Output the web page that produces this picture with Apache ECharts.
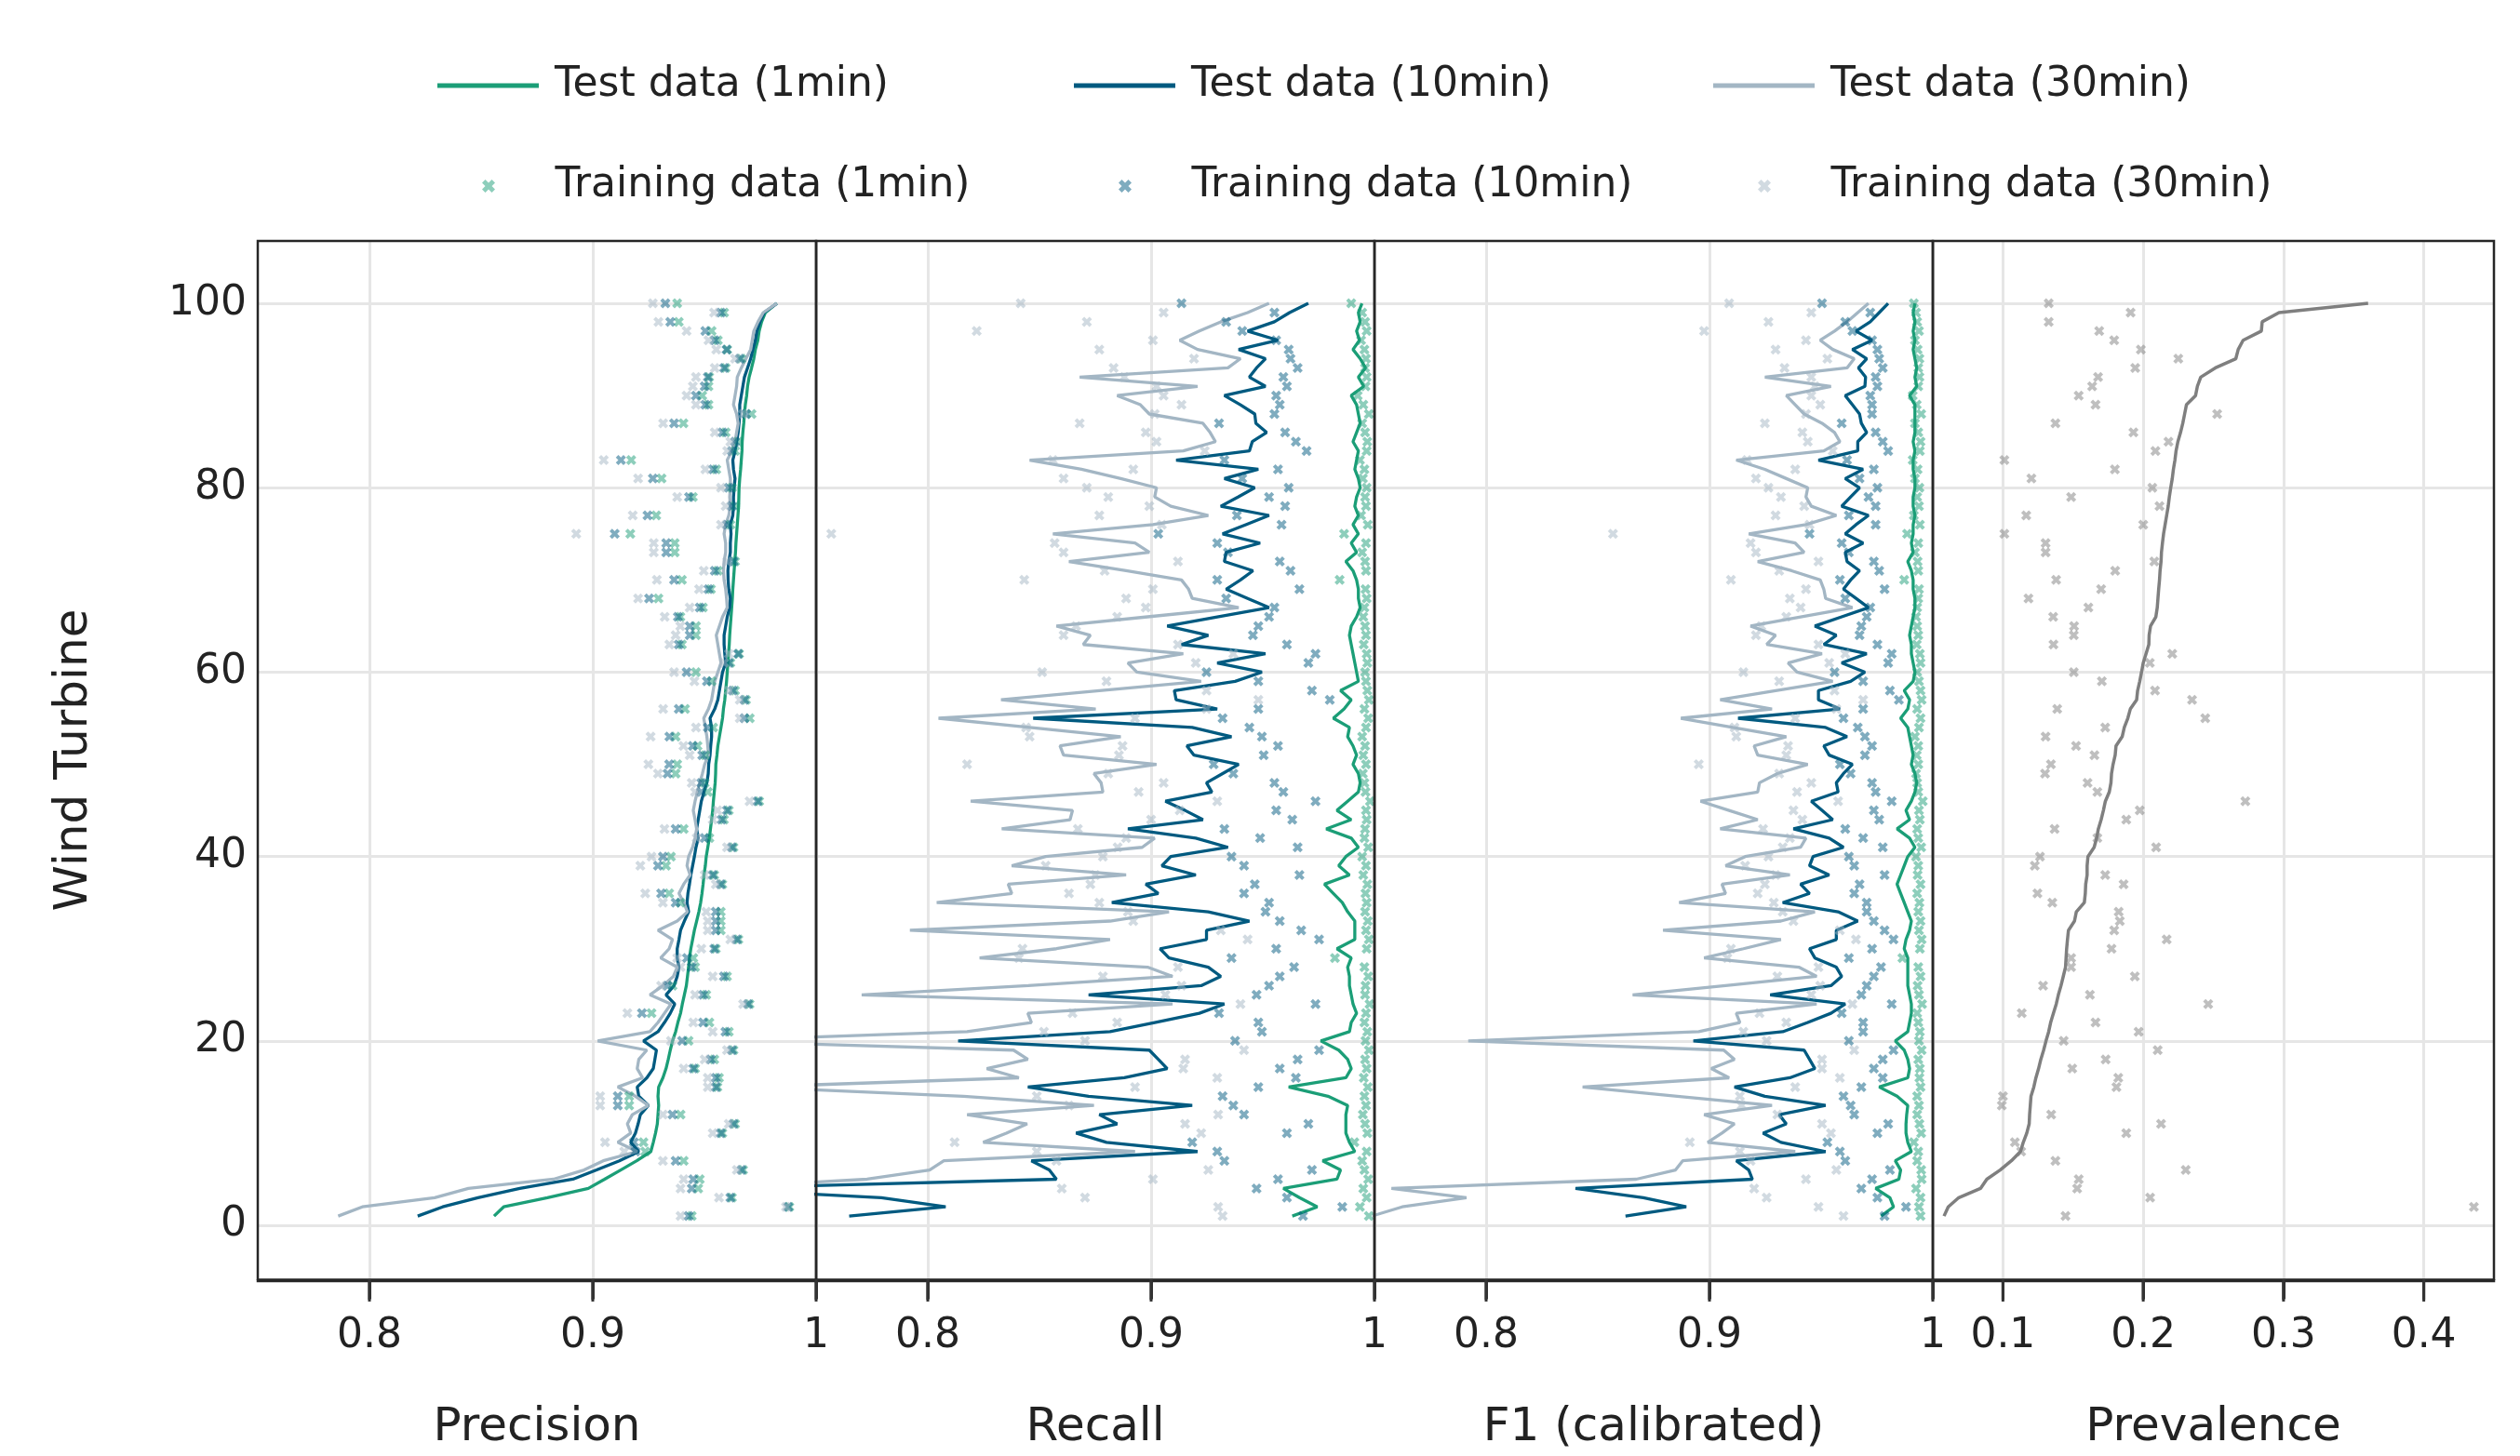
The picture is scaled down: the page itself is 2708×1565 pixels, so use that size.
<!DOCTYPE html>
<html><head><meta charset="utf-8">
<script src="https://cdn.jsdelivr.net/npm/echarts@6/dist/echarts.min.js"></script>
<style>html,body{margin:0;padding:0;background:#fff}#c{width:2708px;height:1565px}</style>
</head><body><div id="c"></div>
<script>
// Wind turbine index (y axis), sorted by test prevalence
const turbines = Array.from({length: 100}, (_, i) => i + 1);
const xTicksMetric = [0.8, 0.9, 1];
const xTicksPrev = [0.1, 0.2, 0.3, 0.4];
const yTicks = [0, 20, 40, 60, 80, 100];

// ---------------- Prevalence ----------------
const prevTest = [0.058,0.061,0.0685,0.084,0.0885,0.098,0.106,0.1125,0.1145,0.117,
0.1187,0.119,0.1195,0.12,0.122,0.1235,0.1254,0.127,0.129,0.1307,
0.1326,0.134,0.136,0.138,0.1395,0.1414,0.143,0.1446,0.145,0.1454,
0.146,0.1467,0.151,0.1523,0.158,0.1587,0.159,0.16,0.16,0.1606,
0.165,0.1668,0.168,0.17,0.1716,0.173,0.1758,0.177,0.1774,0.1785,
0.18,0.1806,0.185,0.1865,0.189,0.1908,0.1953,0.196,0.1975,0.1988,
0.2,0.202,0.204,0.2042,0.2052,0.209,0.21,0.2105,0.211,0.2116,
0.212,0.2127,0.213,0.2137,0.2145,0.2156,0.2167,0.2178,0.2186,0.2196,
0.2207,0.2215,0.2226,0.2234,0.2247,0.2266,0.2282,0.2295,0.2308,0.2373,
0.2386,0.241,0.2514,0.266,0.2677,0.2712,0.2842,0.2848,0.2968,0.3603];
const prevTrain = [0.1446,0.4357,0.2049,0.1529,0.154,0.2303,0.1374,0.113,0.1085,0.1879,
0.2127,0.1344,0.0992,0.1,0.1809,0.1822,0.1494,0.1732,0.2103,0.1433,
0.1967,0.166,0.1134,0.2463,0.162,0.1286,0.194,0.1486,0.1486,0.1774,
0.2167,0.1793,0.1833,0.1825,0.1352,0.1246,0.186,0.1729,0.1227,0.1264,
0.2092,0.1673,0.1368,0.1879,0.1975,0.2728,0.1673,0.1603,0.13,0.1342,
0.1652,0.1521,0.1304,0.1729,0.2442,0.1387,0.2348,0.2084,0.1705,0.1505,
0.2047,0.2207,0.136,0.1505,0.1507,0.1358,0.1609,0.1182,0.17,0.1379,
0.18,0.2079,0.1304,0.1304,0.101,0.2,0.1166,0.2116,0.1486,0.2065,
0.1203,0.1798,0.101,0.2087,0.218,0.193,0.1374,0.2527,0.166,0.154,
0.1636,0.1678,0.1943,0.225,0.1983,0.1793,0.1686,0.1326,0.191,0.1326];

// ---------------- Precision ----------------
const precTest1 = [0.8558,0.8601,0.8797,0.898,0.9053,0.9125,0.9197,0.926,0.9271,0.9281,
0.9289,0.9292,0.9295,0.9292,0.9295,0.9314,0.9328,0.9338,0.9347,0.9357,
0.9371,0.9381,0.9393,0.9401,0.941,0.9419,0.9424,0.9429,0.9433,0.9439,
0.9447,0.9455,0.9465,0.9475,0.9483,0.9489,0.9494,0.9498,0.9504,0.9508,
0.9515,0.9522,0.9527,0.9532,0.9537,0.954,0.9544,0.9548,0.955,0.9551,
0.9556,0.956,0.9567,0.9574,0.9581,0.9585,0.9591,0.9595,0.9599,0.9602,
0.9605,0.9608,0.9611,0.9613,0.9616,0.9619,0.9622,0.9625,0.9627,0.963,
0.9633,0.9636,0.9639,0.9641,0.9644,0.9647,0.965,0.9653,0.9654,0.9655,
0.9658,0.9662,0.9665,0.9668,0.9669,0.9672,0.9676,0.9679,0.9683,0.9689,
0.9693,0.97,0.9711,0.9721,0.9728,0.9739,0.9745,0.9756,0.9773,0.9824];
const precTest10 = [0.8216,0.8328,0.8486,0.8673,0.8911,0.9017,0.9119,0.9206,0.917,0.9191,
0.9203,0.9213,0.9249,0.9206,0.9199,0.9242,0.9271,0.9278,0.9285,0.9227,
0.9292,0.9321,0.9347,0.9367,0.9328,0.9364,0.9378,0.9386,0.9378,0.9378,
0.9386,0.9393,0.941,0.9429,0.9422,0.9426,0.9433,0.9439,0.9447,0.9455,
0.9462,0.9472,0.9465,0.9472,0.9479,0.9486,0.9498,0.9511,0.9517,0.9519,
0.9525,0.9528,0.9532,0.9532,0.9525,0.9546,0.956,0.9567,0.9574,0.9581,
0.9595,0.9591,0.9588,0.9588,0.9595,0.9602,0.9613,0.9616,0.9609,0.9606,
0.9605,0.9609,0.9616,0.9616,0.9619,0.9616,0.9627,0.963,0.963,0.9633,
0.9637,0.963,0.9627,0.9637,0.9644,0.9651,0.9655,0.9658,0.9658,0.9665,
0.9672,0.9679,0.9693,0.9707,0.9717,0.9728,0.9735,0.9749,0.9767,0.9824];
const precTest30 = [0.786,0.7968,0.8292,0.8443,0.8824,0.8961,0.9047,0.9199,0.9112,0.917,
0.9155,0.9177,0.9249,0.9191,0.9112,0.9223,0.9199,0.9206,0.9242,0.9022,
0.9256,0.9292,0.9321,0.935,0.9256,0.9314,0.9361,0.9378,0.9304,0.9342,
0.9357,0.9292,0.9378,0.9424,0.9407,0.9386,0.9407,0.9436,0.9422,0.9429,
0.9447,0.9458,0.9465,0.9458,0.945,0.9458,0.9468,0.9479,0.9491,0.9501,
0.9518,0.9515,0.9511,0.9504,0.9497,0.9518,0.9532,0.9539,0.9546,0.956,
0.9574,0.9567,0.956,0.9553,0.9567,0.9581,0.9602,0.9599,0.9595,0.9588,
0.9585,0.9588,0.9595,0.9595,0.9588,0.9595,0.9609,0.9616,0.9613,0.9616,
0.9616,0.9609,0.9602,0.9623,0.9637,0.9644,0.9651,0.9644,0.963,0.9637,
0.9644,0.9647,0.9665,0.9686,0.9707,0.9714,0.9721,0.974,0.9763,0.9824];
const precTrain1 = [0.9443,0.988,0.9623,0.9472,0.9479,0.9673,0.9407,0.9235,0.9227,0.958,
0.9637,0.9393,0.9163,0.9163,0.9558,0.9565,0.9458,0.9544,0.963,0.9429,
0.9609,0.9522,0.9263,0.9702,0.9508,0.9357,0.9601,0.9458,0.945,0.9551,
0.9652,0.9573,0.9573,0.9573,0.9393,0.9342,0.958,0.9544,0.9328,0.935,
0.963,0.9522,0.9407,0.9587,0.9609,0.9745,0.9515,0.9501,0.9371,0.9378,
0.9504,0.9469,0.9371,0.9539,0.9703,0.9413,0.9686,0.9637,0.9532,0.9462,
0.9616,0.9655,0.9399,0.9462,0.9462,0.9392,0.9493,0.9294,0.9529,0.9399,
0.956,0.9637,0.9367,0.9367,0.9168,0.9616,0.9284,0.9637,0.9448,0.9623,
0.9308,0.9553,0.9172,0.9637,0.9651,0.9595,0.9406,0.9711,0.9518,0.949,
0.9518,0.9521,0.9595,0.9665,0.9602,0.956,0.9532,0.9385,0.9588,0.9378];
const precTrain10 = [0.9429,0.9875,0.9616,0.9443,0.945,0.9666,0.9371,0.9191,0.9184,0.9573,
0.963,0.9357,0.9112,0.9112,0.9551,0.9551,0.945,0.9529,0.9623,0.94,
0.9594,0.9494,0.922,0.9695,0.9494,0.9335,0.9587,0.9443,0.9422,0.9544,
0.9645,0.9551,0.9551,0.9551,0.9371,0.9306,0.9573,0.9537,0.9292,0.9314,
0.9623,0.9501,0.9371,0.9577,0.9601,0.9738,0.9486,0.9486,0.9335,0.9342,
0.949,0.9448,0.9343,0.9515,0.9679,0.9385,0.9679,0.9627,0.9511,0.942,
0.9609,0.9651,0.9385,0.9434,0.9434,0.9381,0.9479,0.9252,0.9518,0.9364,
0.9546,0.963,0.9329,0.9329,0.9098,0.9602,0.9245,0.9623,0.9431,0.9609,
0.9269,0.9539,0.9126,0.9623,0.9637,0.9581,0.9364,0.9686,0.9504,0.9462,
0.9501,0.9515,0.9588,0.9658,0.9599,0.9546,0.9504,0.9347,0.9574,0.9325];
const precTrain30 = [0.9393,0.9865,0.9565,0.9393,0.9407,0.9645,0.9314,0.9141,0.9055,0.9537,
0.9609,0.9314,0.9033,0.9033,0.9515,0.9515,0.9407,0.9501,0.9601,0.935,
0.9537,0.945,0.9155,0.9673,0.9458,0.9306,0.9537,0.9393,0.9378,0.9486,
0.9616,0.9515,0.9515,0.9508,0.9314,0.9235,0.9551,0.9501,0.9213,0.9263,
0.9601,0.9465,0.9321,0.9537,0.9558,0.9702,0.9458,0.9443,0.9292,0.9249,
0.9434,0.9406,0.9259,0.9462,0.9658,0.9315,0.9658,0.9609,0.9455,0.9364,
0.9588,0.9609,0.9343,0.9371,0.9392,0.9322,0.9434,0.9203,0.9476,0.9287,
0.9497,0.9602,0.9273,0.9273,0.8926,0.9574,0.9179,0.9595,0.9378,0.9574,
0.9203,0.9504,0.9049,0.9602,0.9616,0.9546,0.9315,0.9672,0.9462,0.942,
0.9448,0.9462,0.9546,0.9637,0.9553,0.9518,0.942,0.9294,0.9543,0.9269];

// ---------------- Recall ----------------
const recTest1 = [0.9632,0.9744,0.9664,0.9592,0.9832,0.9848,0.9768,0.9912,0.9888,0.9872,
0.9872,0.9872,0.988,0.9792,0.9616,0.9872,0.9896,0.988,0.984,0.976,
0.9888,0.9896,0.992,0.9904,0.9896,0.9888,0.9888,0.988,0.9896,0.9832,
0.9912,0.9912,0.9912,0.988,0.9856,0.9816,0.9776,0.9888,0.984,0.9872,
0.9928,0.9896,0.9784,0.9896,0.9832,0.988,0.9928,0.9936,0.9928,0.9904,
0.992,0.9904,0.988,0.9888,0.9816,0.9864,0.9896,0.9848,0.9928,0.992,
0.9912,0.9904,0.9896,0.9888,0.9896,0.992,0.9936,0.9928,0.9928,0.992,
0.9904,0.9872,0.992,0.9896,0.9928,0.9904,0.9928,0.9912,0.992,0.9936,
0.9928,0.9912,0.992,0.9928,0.9904,0.992,0.9936,0.9928,0.992,0.9896,
0.9952,0.9928,0.996,0.9936,0.9904,0.9933,0.992,0.9936,0.9928,0.9944];
const recTest10 = [0.7648,0.808,0.7792,0.70,0.8576,0.8544,0.8464,0.9208,0.88,0.8664,
0.8848,0.8768,0.9184,0.872,0.8448,0.888,0.9072,0.9032,0.8992,0.8136,
0.8816,0.9016,0.9216,0.9328,0.872,0.9224,0.9312,0.9256,0.908,0.904,
0.9248,0.9248,0.944,0.9256,0.8824,0.9032,0.8976,0.92,0.9048,0.9088,
0.9344,0.92,0.8896,0.9232,0.9152,0.9064,0.9272,0.9248,0.932,0.9392,
0.9192,0.916,0.936,0.9184,0.8472,0.9296,0.9112,0.9104,0.9376,0.9496,
0.9296,0.9512,0.9136,0.9256,0.9072,0.9296,0.9528,0.9432,0.9336,0.94,
0.9456,0.9328,0.9336,0.9488,0.932,0.9424,0.9528,0.9312,0.9389,0.9464,
0.9328,0.948,0.9112,0.944,0.9453,0.9517,0.9469,0.9464,0.94,0.9328,
0.9512,0.944,0.9472,0.9512,0.9392,0.9568,0.9432,0.9552,0.962,0.9704];
const recTest30 = [0.68,0.71,0.69,0.70,0.7728,0.8008,0.8072,0.8928,0.8248,0.8352,
0.8445,0.8176,0.8744,0.816,0.72,0.8408,0.8264,0.8448,0.8384,0.70,
0.8176,0.8464,0.8448,0.9096,0.7704,0.845,0.9096,0.8984,0.8232,0.8576,
0.8816,0.792,0.8816,0.908,0.804,0.8376,0.836,0.8888,0.8376,0.8528,
0.896,0.9016,0.8331,0.8637,0.8648,0.8192,0.8784,0.8776,0.8744,0.9024,
0.8608,0.8592,0.8864,0.8456,0.8048,0.8752,0.8328,0.8768,0.9224,0.8936,
0.8896,0.9144,0.8696,0.8728,0.8576,0.8984,0.9392,0.9184,0.9168,0.9136,
0.8888,0.8632,0.8992,0.8928,0.856,0.9008,0.9256,0.9088,0.9016,0.9024,
0.8864,0.8688,0.8456,0.9144,0.9288,0.9264,0.9232,0.8992,0.8952,0.8848,
0.9208,0.868,0.9344,0.94,0.9208,0.9128,0.9216,0.9312,0.9432,0.9528];
const recTrain1 = [0.9975,0.9935,0.9965,0.995,0.9972,0.9955,0.9945,0.9965,0.991,0.9968,
0.9958,0.9948,0.9962,0.9955,0.997,0.9952,0.9965,0.9958,0.9975,0.996,
0.9968,0.9955,0.9962,0.9978,0.9958,0.996,0.9972,0.9955,0.9823,0.9965,
0.9975,0.9962,0.997,0.9958,0.9965,0.996,0.9968,0.995,0.9962,0.9945,
0.9972,0.9955,0.9958,0.9965,0.9962,0.998,0.996,0.9955,0.9948,0.9962,
0.995,0.9958,0.9945,0.9962,0.9972,0.9955,0.9975,0.9968,0.9962,0.9958,
0.9968,0.9965,0.9952,0.9962,0.9958,0.995,0.9955,0.9965,0.996,0.9844,
0.9962,0.9958,0.9945,0.9962,0.9864,0.997,0.994,0.9962,0.9958,0.9965,
0.9948,0.9955,0.9935,0.9965,0.9968,0.9958,0.9945,0.9975,0.995,0.9925,
0.996,0.9965,0.9958,0.9962,0.9955,0.994,0.9965,0.9958,0.9945,0.9896];
const recTrain10 = [0.968,0.9856,0.9608,0.9472,0.9568,0.972,0.9328,0.9296,0.9184,0.9608,
0.9704,0.9416,0.9368,0.932,0.948,0.9648,0.9576,0.9656,0.9752,0.9376,
0.9496,0.948,0.9304,0.9736,0.9472,0.9528,0.9576,0.964,0.936,0.956,
0.9752,0.9672,0.9576,0.9512,0.9528,0.9416,0.9464,0.9664,0.9416,0.936,
0.9656,0.9488,0.9328,0.9632,0.956,0.9736,0.9592,0.9552,0.9368,0.928,
0.9504,0.9568,0.9496,0.944,0.932,0.948,0.98,0.972,0.948,0.9248,
0.9704,0.9736,0.9608,0.9456,0.948,0.9528,0.9552,0.9336,0.9664,0.9296,
0.9624,0.9576,0.9344,0.9296,0.9032,0.9584,0.9384,0.96,0.9528,0.9616,
0.9408,0.9568,0.9328,0.9696,0.9648,0.96,0.9304,0.9552,0.9576,0.956,
0.9608,0.9592,0.9656,0.9624,0.9616,0.956,0.9408,0.9336,0.9552,0.9136];
const recTrain30 = [0.932,0.93,0.8704,0.86,0.9008,0.9256,0.8576,0.8488,0.812,0.9224,
0.9152,0.93,0.8632,0.8488,0.8928,0.9296,0.9144,0.9152,0.9416,0.8704,
0.852,0.8848,0.8648,0.94,0.9064,0.9136,0.8784,0.912,0.8408,0.8424,
0.9432,0.9312,0.892,0.8896,0.8768,0.8632,0.8728,0.875,0.8528,0.8784,
0.885,0.8888,0.8672,0.90,0.9128,0.9296,0.8944,0.9056,0.8808,0.8176,
0.8856,0.8872,0.8456,0.844,0.8928,0.9248,0.948,0.9248,0.88,0.8512,
0.92,0.9368,0.912,0.8608,0.8664,0.8848,0.8976,0.8888,0.9008,0.8432,
0.8792,0.912,0.8608,0.8568,0.7568,0.9048,0.8768,0.8992,0.8808,0.8712,
0.8608,0.892,0.856,0.924,0.9024,0.8976,0.868,0.9016,0.9136,0.9056,
0.9024,0.888,0.8832,0.9192,0.8768,0.9008,0.8219,0.8712,0.9056,0.8416];

// ---------------- F1 (calibrated) ----------------
const f1Test1 = [0.9768,0.9824,0.9808,0.9744,0.9848,0.9856,0.9832,0.9904,0.9888,0.988,
0.988,0.9883,0.9888,0.984,0.976,0.9888,0.9896,0.9888,0.9872,0.9832,
0.9888,0.9896,0.9904,0.9904,0.9896,0.9888,0.9888,0.9888,0.9888,0.9872,
0.988,0.9896,0.9904,0.9888,0.9872,0.9856,0.984,0.9856,0.9872,0.9888,
0.992,0.9896,0.984,0.9896,0.988,0.9904,0.992,0.9928,0.992,0.9904,
0.9912,0.9904,0.9896,0.9888,0.9856,0.9888,0.9896,0.9872,0.9912,0.992,
0.9912,0.9904,0.9904,0.9896,0.9904,0.9912,0.992,0.992,0.9912,0.9912,
0.9904,0.9888,0.9912,0.9904,0.9912,0.9912,0.992,0.9912,0.9912,0.992,
0.992,0.9912,0.9912,0.992,0.9912,0.992,0.992,0.992,0.992,0.9896,
0.9928,0.992,0.9928,0.992,0.9912,0.992,0.9912,0.992,0.9912,0.992];
const f1Test10 = [0.8624,0.8896,0.8704,0.84,0.9192,0.9176,0.912,0.952,0.932,0.924,
0.9344,0.9312,0.952,0.9248,0.9112,0.936,0.9472,0.9448,0.9424,0.8928,
0.9328,0.944,0.9544,0.9608,0.9272,0.9544,0.9592,0.9568,0.9472,0.9448,
0.9568,0.9568,0.9664,0.9576,0.9328,0.9448,0.9408,0.9536,0.9448,0.9464,
0.96,0.9536,0.9376,0.9552,0.9504,0.9456,0.9576,0.9568,0.96,0.964,
0.9536,0.9512,0.9616,0.952,0.9128,0.9584,0.9488,0.9488,0.9632,0.9696,
0.9592,0.9704,0.9512,0.9568,0.9472,0.9592,0.9712,0.9656,0.96,0.9632,
0.9672,0.9616,0.9608,0.9688,0.9608,0.9656,0.9712,0.9592,0.9632,0.9672,
0.9608,0.9688,0.9488,0.9664,0.9664,0.9704,0.968,0.9672,0.964,0.9608,
0.9696,0.9699,0.9667,0.9704,0.964,0.9728,0.9656,0.972,0.976,0.98];
const f1Test30 = [0.7488,0.7624,0.7912,0.7576,0.8672,0.8848,0.888,0.9384,0.8992,0.9056,
0.9112,0.8976,0.928,0.8856,0.8432,0.9088,0.9008,0.9112,0.9064,0.792,
0.8952,0.9136,0.912,0.948,0.8656,0.9072,0.948,0.94,0.8976,0.9152,
0.932,0.8792,0.932,0.9472,0.8864,0.9072,0.9056,0.936,0.9072,0.916,
0.9408,0.9432,0.9048,0.9216,0.9088,0.896,0.9216,0.9224,0.9304,0.944,
0.9216,0.92,0.9344,0.9104,0.8872,0.928,0.9048,0.9296,0.9552,0.9392,
0.9352,0.9504,0.9256,0.9296,0.9184,0.9408,0.964,0.952,0.9512,0.9496,
0.9368,0.9216,0.9424,0.9384,0.9176,0.9432,0.9568,0.9456,0.9432,0.944,
0.9344,0.9248,0.912,0.9512,0.9584,0.956,0.9504,0.9424,0.9384,0.9344,
0.9544,0.9248,0.9616,0.9648,0.9552,0.9496,0.956,0.9616,0.9664,0.9712];
const f1Train1 = [0.9945,0.9938,0.9945,0.9925,0.995,0.9948,0.993,0.9935,0.9915,0.9948,
0.994,0.993,0.9938,0.993,0.9945,0.994,0.9942,0.9935,0.995,0.9938,
0.9942,0.9935,0.993,0.9952,0.9938,0.9932,0.9945,0.9935,0.9864,0.9942,
0.995,0.9938,0.9945,0.9935,0.994,0.993,0.9945,0.9932,0.9935,0.9925,
0.9948,0.9935,0.993,0.9942,0.9938,0.9955,0.9935,0.993,0.9925,0.9935,
0.9928,0.9935,0.992,0.9938,0.9945,0.993,0.995,0.9945,0.9938,0.993,
0.9945,0.9942,0.9928,0.9935,0.993,0.9925,0.993,0.9935,0.9938,0.9872,
0.9935,0.9932,0.992,0.9935,0.9885,0.9942,0.9915,0.9938,0.993,0.994,
0.992,0.9932,0.991,0.9942,0.9945,0.9935,0.992,0.9948,0.9928,0.991,
0.9935,0.994,0.9935,0.994,0.9932,0.992,0.9938,0.993,0.9925,0.9915];
const f1Train10 = [0.9784,0.988,0.9752,0.968,0.9728,0.9808,0.9608,0.9584,0.9528,0.9752,
0.98,0.9648,0.9632,0.96,0.968,0.9776,0.9736,0.9776,0.9824,0.9624,
0.9688,0.9688,0.9592,0.9816,0.968,0.9704,0.9736,0.9768,0.9624,0.9728,
0.9824,0.9784,0.9736,0.9704,0.9704,0.9648,0.9672,0.9784,0.9648,0.9624,
0.9776,0.9688,0.9608,0.976,0.9736,0.9816,0.9744,0.9728,0.9632,0.9584,
0.9696,0.9728,0.9696,0.9664,0.96,0.9688,0.9848,0.9808,0.9688,0.956,
0.98,0.9816,0.9752,0.9672,0.968,0.9704,0.972,0.9608,0.9784,0.9584,
0.976,0.9736,0.9624,0.9592,0.9448,0.9744,0.9624,0.9744,0.9712,0.9752,
0.9672,0.9736,0.9616,0.98,0.9776,0.9744,0.9592,0.9728,0.9728,0.972,
0.9752,0.9744,0.9776,0.976,0.9752,0.9728,0.964,0.9608,0.972,0.9504];
const f1Train30 = [0.96,0.9488,0.9256,0.92,0.9432,0.9568,0.9184,0.9136,0.8912,0.9544,
0.9504,0.9304,0.9144,0.9136,0.9384,0.9584,0.9504,0.9504,0.9648,0.9256,
0.9152,0.9344,0.9224,0.964,0.9456,0.9496,0.9304,0.9488,0.908,0.9096,
0.9656,0.9584,0.9376,0.9328,0.9288,0.9216,0.9248,0.9296,0.916,0.9264,
0.9328,0.936,0.924,0.9416,0.9376,0.9576,0.9392,0.9456,0.9312,0.8952,
0.9344,0.9352,0.912,0.9112,0.9384,0.9568,0.9688,0.956,0.9312,0.9152,
0.9536,0.9608,0.9488,0.9208,0.9232,0.9344,0.9408,0.936,0.9432,0.9096,
0.9312,0.9488,0.9208,0.9184,0.8568,0.9448,0.9296,0.9424,0.932,0.9264,
0.9208,0.9384,0.9168,0.9552,0.944,0.9416,0.9248,0.9432,0.9496,0.9456,
0.9472,0.9456,0.9336,0.9528,0.9296,0.9432,0.8976,0.9264,0.9456,0.9088];

// ---------------- Styling ----------------
const FONT = 'DejaVu Sans';
const TXT = '#222222';
const FRAME = '#262626';
const TICK = '#333333';
const C1 = '#1b9e77', C10 = '#005a80', C30 = '#a3b6c4', CP = '#7f7f7f';
const XSYM = 'path://M0,1L1,2L2,1L1,0L2,-1L1,-2L0,-1L-1,-2L-2,-1L-1,0L-2,1L-1,2Z';
const N1 = 'Test data (1min)', N10 = 'Test data (10min)', N30 = 'Test data (30min)';
const T1 = 'Training data (1min)', T10 = 'Training data (10min)', T30 = 'Training data (30min)';

const pts = arr => arr.map((v, i) => [v, turbines[i]]);
const lineS = (name, arr, gi, color, w) => ({
  name, type: 'line', xAxisIndex: gi, yAxisIndex: gi, data: pts(arr),
  symbol: 'none', lineStyle: {color, width: w || 3.3}, itemStyle: {color},
  z: 2, animation: false, silent: true, clip: true
});
const scatS = (name, arr, gi, color) => ({
  name, type: 'scatter', xAxisIndex: gi, yAxisIndex: gi, data: pts(arr),
  symbol: XSYM, symbolSize: 11, symbolKeepAspect: true,
  itemStyle: {color, opacity: 0.5}, z: 3, animation: false, silent: true
});

const TOP = 259, HEIGHT = 1118;
const Y_MIN = -5.85, Y_MAX = 106.77;
const gridDefs = [
  {left: 277, width: 600, min: 0.75, max: 1.0},
  {left: 877, width: 600, min: 0.75, max: 1.0},
  {left: 1477, width: 600, min: 0.75, max: 1.0},
  {left: 2077, width: 603, min: 0.05, max: 0.45}
];
const grids = gridDefs.map(g => ({left: g.left, width: g.width, top: TOP, height: HEIGHT, show: false}));
const borders = gridDefs.map(g => ({
  type: 'rect', silent: true, z: 100,
  shape: {x: g.left, y: TOP, width: g.width, height: HEIGHT},
  style: {fill: null, stroke: FRAME, lineWidth: 2.5}
}));

const xNames = ['Precision', 'Recall', 'F1 (calibrated)', 'Prevalence'];
const xTickSets = [xTicksMetric, xTicksMetric, xTicksMetric, xTicksPrev];
const xAxes = xNames.map((nm, i) => ({
  type: 'value', gridIndex: i, position: 'bottom',
  min: gridDefs[i].min, max: gridDefs[i].max,
  name: nm, nameLocation: 'middle', nameGap: 135,
  nameTextStyle: {fontFamily: FONT, fontSize: 50, color: TXT},
  axisLine: {show: true, onZero: false, lineStyle: {color: FRAME, width: 2.5}},
  axisTick: {show: true, inside: false, length: 21, lineStyle: {color: TICK, width: 3},
    customValues: xTickSets[i]},
  axisLabel: {show: true, fontFamily: FONT, fontSize: 44, color: TXT, margin: 40,
    customValues: xTickSets[i]},
  splitLine: {show: true, lineStyle: {color: '#e6e6e6', width: 3}}
}));
const yAxes = [0, 1, 2, 3].map(i => ({
  type: 'value', gridIndex: i, position: 'left', min: Y_MIN, max: Y_MAX,
  name: i === 0 ? 'Wind Turbine' : '', nameLocation: 'middle', nameGap: 172, nameRotate: 90,
  nameTextStyle: {fontFamily: FONT, fontSize: 50, color: TXT},
  axisLine: {show: false, onZero: false},
  axisTick: {show: false, customValues: yTicks},
  axisLabel: {show: i === 0, fontFamily: FONT, fontSize: 44, color: TXT, margin: 12, customValues: yTicks},
  splitLine: {show: true, lineStyle: {color: '#e6e6e6', width: 3}}
}));

const series = [];
const panels = [
  [precTest1, precTest10, precTest30, precTrain1, precTrain10, precTrain30],
  [recTest1, recTest10, recTest30, recTrain1, recTrain10, recTrain30],
  [f1Test1, f1Test10, f1Test30, f1Train1, f1Train10, f1Train30]
];
panels.forEach((p, gi) => {
  series.push(lineS(N1, p[0], gi, C1));
  series.push(lineS(N10, p[1], gi, C10));
  series.push(lineS(N30, p[2], gi, C30));
  series.push(scatS(T1, p[3], gi, C1));
  series.push(scatS(T10, p[4], gi, C10));
  series.push(scatS(T30, p[5], gi, C30));
});
series.push(lineS('Prevalence (test)', prevTest, 3, CP, 3.5));
series.push(scatS('Prevalence (training)', prevTrain, 3, CP));

// Outward x tick marks drawn through each panel's own axis scale
xTickSets.forEach((vals, gi) => {
  series.push({
    name: 'xticks' + gi, type: 'custom', xAxisIndex: gi, yAxisIndex: gi,
    data: vals.map(v => [v, Y_MIN]), clip: false, silent: true, z: 120, animation: false,
    renderItem: (params, api) => {
      const p = api.coord([api.value(0), api.value(1)]);
      return {type: 'line', shape: {x1: p[0], y1: p[1], x2: p[0], y2: p[1] + 22},
        style: {stroke: TICK, lineWidth: 3}};
    }
  });
});

const legendLine = (name, left, top) => ({
  data: [{name, icon: 'rect'}], left, top, orient: 'horizontal', padding: 0,
  itemWidth: 109, itemHeight: 5, itemGap: 0, selectedMode: false,
  textStyle: {fontFamily: FONT, fontSize: 44, color: TXT, padding: [0, 0, 0, 12]}
});
const legendMark = (name, left, top) => ({
  data: [name], left, top, orient: 'horizontal', padding: 0,
  itemWidth: 109, itemHeight: 14, itemGap: 0, selectedMode: false,
  textStyle: {fontFamily: FONT, fontSize: 44, color: TXT, padding: [0, 0, 0, 12]}
});
const legends = [
  legendLine(N1, 470, 70), legendLine(N10, 1154, 70), legendLine(N30, 1841, 70),
  legendMark(T1, 518, 178), legendMark(T10, 1202, 178), legendMark(T30, 1889, 178)
];

// Fallback tick lines from the axis ranges (same positions as the custom series)
const tickMarks = [];
xTickSets.forEach((vals, i) => {
  const g = gridDefs[i];
  vals.forEach(v => {
    const px = g.left + (v - g.min) / (g.max - g.min) * g.width;
    tickMarks.push({
      type: 'line', silent: true, z: 101,
      shape: {x1: px, y1: TOP + HEIGHT, x2: px, y2: TOP + HEIGHT + 22},
      style: {stroke: TICK, lineWidth: 3}
    });
  });
});

const chart = echarts.init(document.getElementById('c'), null, {renderer: 'canvas'});
chart.setOption({
  backgroundColor: '#ffffff',
  animation: false,
  textStyle: {fontFamily: FONT},
  legend: legends,
  grid: grids,
  xAxis: xAxes,
  yAxis: yAxes,
  graphic: {elements: borders.concat(tickMarks)},
  series
});
</script>
</body></html>
